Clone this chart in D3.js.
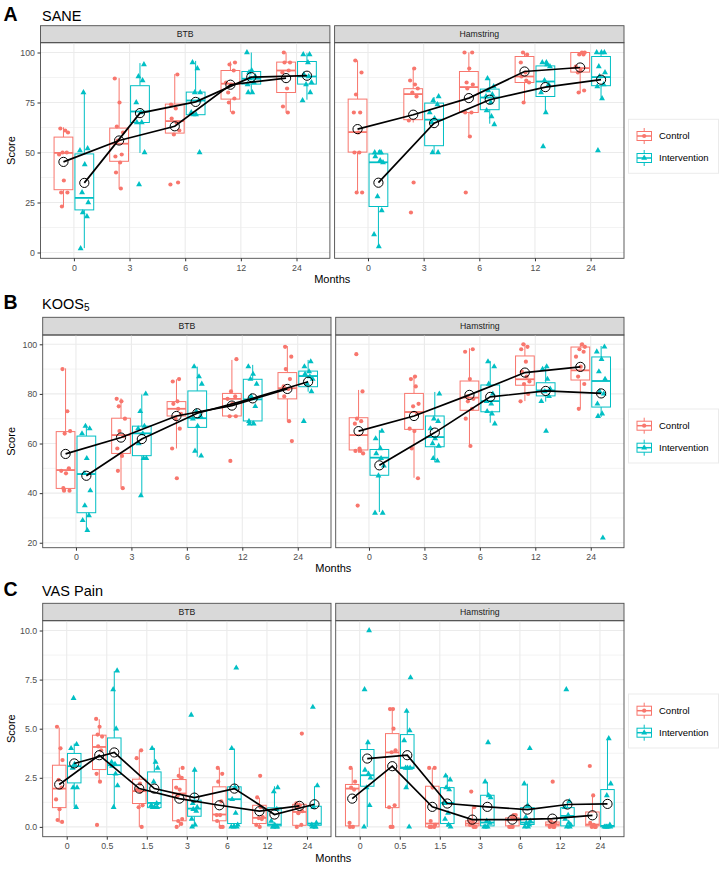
<!DOCTYPE html>
<html>
<head>
<meta charset="utf-8">
<script src="https://cdn.jsdelivr.net/npm/d3@7"></script>
<style>
  body { margin: 0; background: #fff; }
  svg { display: block; font-family: "Liberation Sans", Arial, sans-serif; }
</style>
</head>
<body>
<svg id="chart" width="724" height="871"></svg>
<script>
const groups = ["Control", "Intervention"];
const facets = ["BTB", "Hamstring"];
const groupColors = ["#F8766D", "#00BFC4"];

// ---- SANE ----
const saneTimes = ["0", "3", "6", "12", "24"];
const saneTicks = [0, 25, 50, 75, 100];
// box stats per time: [lower whisker, q1, median, q3, upper whisker]
const saneBtbCtlBox = [[23.1, 31.4, 49.8, 57.7, 62.6], [32, 45.6, 54.4, 62.2, 87.2], [58.9, 59.7, 65.7, 74.2, 89.2], [70.2, 76.7, 84.4, 91, 95.5], [70, 80, 91, 95.2, 100]];
const saneBtbCtlMean = [45.3, 56, 63.1, 83.9, 87.2];
const saneBtbCtlPts = [[62, 61, 60, 50, 50, 49, 36, 30, 30, 23], [87, 75, 63, 60, 56, 49, 48, 45, 40, 32], [89, 74, 72, 67, 65, 61, 59, 35, 34], [95, 94, 91, 85, 84, 80, 77, 75, 70], [100, 95, 95, 91, 90, 82, 73, 70]];
const saneBtbIntBox = [[2.2, 21.3, 27.3, 49.3, 80.5], [49.8, 65, 70.5, 83.4, 94.7], [68.9, 68.9, 76, 80.2, 95.8], [80.5, 84.2, 86.9, 90.5, 100], [76.4, 84.2, 88, 95.5, 99.7]];
const saneBtbIntMean = [34.8, 69.7, 75.3, 87.7, 88.4];
const saneBtbIntPts = [[80, 52, 51, 44, 30, 25, 20, 18, 2], [94, 88, 86, 75, 70, 65, 65, 50, 34], [95, 92, 80, 80, 76, 70, 69, 69, 50], [100, 91, 90, 88, 87, 85, 84, 80, 80], [99, 99, 95, 89, 88, 85, 84, 80, 76]];
const saneHamCtlBox = [[30.3, 50.2, 60.2, 76.7, 96], [65, 66.4, 79.2, 81.9, 91.7], [58.4, 70, 82.7, 90.5, 100], [75.2, 85, 88, 98, 100], [79.7, 90.2, 92.2, 100, 100]];
const saneHamCtlMean = [61.7, 68.9, 77.2, 90.5, 92.5];
const saneHamCtlPts = [[96, 90, 79, 70, 70, 60, 50, 50, 30, 30], [92, 86, 84, 82, 80, 78, 66, 35, 20], [100, 100, 92, 85, 84, 82, 70, 70, 58, 30], [100, 99, 95, 90, 88, 86, 85, 75], [100, 100, 99, 99, 93, 91, 90, 81, 80]];
const saneHamIntBox = [[3.2, 23, 45.1, 49.3, 51], [50, 53.4, 66.4, 74.7, 77.7], [64.4, 71.4, 77.5, 81.7, 86.9], [70.2, 78, 85.5, 93.3, 95.5], [77.5, 83.4, 87.7, 98, 100]];
const saneHamIntMean = [34.9, 64.7, 76.4, 82.7, 86.4];
const saneHamIntPts = [[50, 50, 50, 48, 46, 45, 28, 21, 9, 3], [78, 76, 74, 70, 67, 65, 50, 50], [87, 83, 81, 79, 78, 75, 71, 68, 64], [95, 95, 94, 93, 86, 84, 80, 70, 53], [100, 100, 100, 93, 90, 88, 84, 83, 77, 51]];

// ---- KOOS5 ----
const koosTimes = ["0", "3", "6", "12", "24"];
const koosTicks = [20, 40, 60, 80, 100];
const koosBtbCtlBox = [[41, 41.9, 49.3, 64.8, 90.3], [42.2, 56, 63.4, 70.2, 78.2], [58, 71.1, 74, 76.9, 85.9], [71.1, 71.1, 78, 80.2, 93.7], [69.1, 78, 82.3, 88.6, 99.3]];
const koosBtbCtlMean = [55.8, 62.4, 71.1, 75.3, 82];
const koosBtbCtlPts = [[90, 73, 65, 64, 50, 49, 48, 42, 41, 41], [78, 77, 75, 70, 65, 63, 58, 55, 49, 42], [86, 85, 77, 76, 74, 72, 70, 66, 58, 46], [94, 81, 79, 78, 76, 71, 71, 53], [99, 95, 90, 86, 83, 82, 79, 69, 61]];
const koosBtbIntBox = [[25.1, 32.1, 47.7, 63, 67], [38.8, 55.1, 64.1, 67, 79.8], [54.7, 66.5, 70.2, 81.2, 91], [67.9, 69.1, 77.8, 85.9, 91.7], [80.9, 82.9, 87.2, 89.2, 93.7]];
const koosBtbIntMean = [47, 61.8, 72.2, 78.2, 84.9];
const koosBtbIntPts = [[67, 66, 64, 54, 48, 41, 35, 31, 29, 25], [80, 73, 67, 66, 64, 60, 54, 54, 39], [91, 87, 84, 73, 71, 70, 67, 57, 55], [91, 88, 86, 84, 79, 75, 69, 68, 68], [93, 91, 89, 88, 87, 86, 84, 81, 69]];
const koosHamCtlBox = [[56.3, 57.4, 63.4, 70.4, 81.6], [46.2, 65.7, 72.7, 80.2, 86.8], [59, 73.4, 78.5, 85.2, 98.4], [77.1, 83.5, 85.9, 95.3, 100.4], [74.2, 85.6, 89.5, 98.9, 100.4]];
const koosHamCtlMean = [65, 71.1, 79.6, 88.6, 90.9];
const koosHamCtlPts = [[96, 81, 70, 69, 68, 58, 57, 57, 56, 35], [87, 86, 83, 76, 75, 72, 66, 65, 58, 46], [98, 97, 86, 79, 78, 77, 74, 70, 59], [100, 99, 98, 93, 89, 87, 85, 84, 80, 77], [100, 99, 98, 97, 95, 91, 87, 84, 74]];
const koosHamIntBox = [[32.4, 47.2, 54.3, 57.6, 65.4], [52.5, 58.7, 62.6, 71.1, 80.8], [68.4, 72.8, 77.1, 83.6, 93.3], [76.9, 79.2, 81.4, 84.5, 91.3], [70.7, 74.7, 85.2, 94.9, 99.3]];
const koosHamIntMean = [51.2, 64.4, 78.8, 81.2, 80.2];
const koosHamIntPts = [[65, 62, 58, 56, 54, 51, 47, 32, 32], [80, 70, 69, 66, 62, 60, 59, 54, 53], [93, 91, 84, 80, 77, 76, 73, 72, 68], [91, 90, 86, 82, 81, 79, 77, 65], [99, 97, 94, 89, 86, 81, 80, 76, 72, 71, 22]];

// ---- VAS Pain ----
const vasTimes = ["0", "0.5", "1.5", "3", "6", "12", "24"];
const vasTicks = [0, 2.5, 5, 7.5, 10];
const vasBtbCtlBox = [[0.22, 0.98, 1.95, 3.14, 5.06], [2.33, 2.92, 4.07, 4.67, 5.48], [0, 1.19, 1.82, 2.43, 3.9], [0, 0.31, 1.7, 2.41, 3.02], [0, 0.31, 0.63, 2.04, 3.0], [0, 0.17, 0.46, 1.1, 1.48], [0, 0.08, 0.76, 1.15, 1.24]];
const vasBtbCtlMean = [2.16, 3.65, 1.95, 1.44, 1.1, 0.8, 1.07];
const vasBtbCtlPts = [[5.1, 4.0, 3.4, 2.4, 2.0, 1.4, 0.9, 0.35, 0.25], [5.5, 5.1, 4.7, 4.6, 4.1, 3.9, 2.7, 2.3, 0.1], [3.9, 3.5, 2.2, 1.9, 1.8, 1.1, 1.0, 0], [3.0, 2.6, 2.5, 2.0, 1.9, 1.6, 0.4, 0.3, 0.15, 0], [3.0, 2.7, 2.3, 1.3, 0.6, 0.6, 0.3, 0, 0], [2.6, 1.5, 1.0, 0.5, 0.45, 0.4, 0.1, 0], [4.75, 1.2, 1.1, 1.0, 0.8, 0.7, 0.1, 0]];
const vasBtbIntBox = [[1.02, 2.24, 3.09, 3.74, 4.24], [0.98, 2.67, 3.14, 4.53, 7.93], [0.93, 0.98, 1.22, 2.8, 4.02], [0, 0.54, 0.93, 1.36, 2.85], [0, 0.17, 1.41, 2.04, 3.99], [0, 0.05, 0.12, 0.97, 2.07], [0, 0.08, 0.17, 1.05, 2.07]];
const vasBtbIntMean = [3.23, 3.79, 1.95, 1.49, 1.95, 0.63, 1.15];
const vasBtbIntPts = [[6.55, 4.2, 4.0, 3.2, 3.0, 2.0, 2.0, 1.0], [7.95, 7.0, 5.0, 3.3, 3.2, 3.1, 2.7, 2.1, 1.0], [4.0, 3.3, 3.0, 2.3, 1.2, 1.1, 1.0, 1.0, 1.0], [5.7, 2.9, 1.2, 1.0, 0.9, 0.8, 0.4, 0.1, 0], [8.1, 4.0, 2.0, 1.4, 0.7, 0.1, 0, 0, 0], [2.0, 1.8, 0.9, 0.3, 0.1, 0, 0, 0, 0], [6.1, 2.1, 1.0, 0.2, 0.1, 0, 0, 0]];
const vasHamCtlBox = [[0, 0.05, 1.95, 2.16, 3.0], [0, 0.98, 3.79, 4.75, 6.03], [0, 0, 0.17, 2.07, 3.0], [0, 0.05, 0.17, 0.31, 0.98], [0, 0.05, 0.34, 0.46, 0.63], [0, 0.05, 0.12, 0.25, 0.25], [0, 0.05, 0.12, 0.76, 1.65]];
const vasHamCtlMean = [1.44, 3.09, 1.02, 0.37, 0.37, 0.42, 0.59];
const vasHamCtlPts = [[3.0, 2.3, 2.0, 1.9, 0.2, 0, 0], [6.0, 6.0, 5.0, 3.9, 3.8, 1.1, 1.0, 0, 0], [3.0, 3.0, 2.0, 0.3, 0.1, 0, 0, 0], [1.8, 1.0, 0.3, 0.2, 0.1, 0, 0], [0.6, 0.6, 0.5, 0.4, 0, 0, 0], [2.3, 0.3, 0.2, 0.1, 0, 0, 0], [3.1, 1.6, 0.2, 0.1, 0, 0, 0]];
const vasHamIntBox = [[0, 2.07, 2.63, 3.94, 4.33], [2.0, 2.97, 3.02, 4.7, 5.94], [0, 0.17, 1.22, 2.0, 2.63], [0, 0.05, 0.22, 1.61, 2.29], [0, 0.12, 0.22, 0.98, 2.2], [0, 0.05, 0.56, 0.98, 1.31], [0, 0, 0.05, 1.9, 4.53]];
const vasHamIntMean = [3.48, 3.65, 1.19, 1.02, 0.88, 1.14, 1.17];
const vasHamIntPts = [[10.0, 7.0, 4.3, 2.9, 2.7, 2.5, 2.0, 1.1, 0], [7.6, 5.9, 4.9, 4.4, 3.0, 3.0, 3.0, 2.0, 0], [2.6, 2.4, 2.0, 1.9, 1.2, 0.7, 0.4, 0.1, 0], [4.3, 2.3, 1.6, 1.5, 0.3, 0.2, 0, 0, 0], [4.0, 2.2, 1.1, 0.5, 0.3, 0.2, 0.1, 0, 0], [7.0, 1.3, 1.0, 0.6, 0.4, 0.2, 0.1, 0, 0], [4.5, 2.2, 1.6, 0.1, 0, 0, 0, 0, 0]];

// fixed jitter pattern (fraction of half jitter width)
const jitterSeq = [-0.62, 0.35, 0.91, -0.18, 0.66, -0.87, 0.08, -0.45, 0.79, -0.31, 0.52, -0.74, 0.2];

const plots = [
  { letter: "A", title: "SANE", sub: "", times: saneTimes, ticks: saneTicks, fmt: d3.format("d"),
    yDomain: [-2.9, 104.9], left: 40.5, titleY: 21, stripTop: 25.7, stripBottom: 42.7, panelBottom: 258.3, monthsY: 283.3, legendTop: 119.3,
    data: [[[saneBtbCtlBox, saneBtbCtlMean, saneBtbCtlPts], [saneBtbIntBox, saneBtbIntMean, saneBtbIntPts]],
           [[saneHamCtlBox, saneHamCtlMean, saneHamCtlPts], [saneHamIntBox, saneHamIntMean, saneHamIntPts]]] },
  { letter: "B", title: "KOOS", sub: "5", times: koosTimes, ticks: koosTicks, fmt: d3.format("d"),
    yDomain: [18, 103.75], left: 42.7, titleY: 309, stripTop: 317.3, stripBottom: 335, panelBottom: 547.7, monthsY: 572.3, legendTop: 409,
    data: [[[koosBtbCtlBox, koosBtbCtlMean, koosBtbCtlPts], [koosBtbIntBox, koosBtbIntMean, koosBtbIntPts]],
           [[koosHamCtlBox, koosHamCtlMean, koosHamCtlPts], [koosHamIntBox, koosHamIntMean, koosHamIntPts]]] },
  { letter: "C", title: "VAS Pain", sub: "", times: vasTimes, ticks: vasTicks, fmt: d3.format(".1f"),
    yDomain: [-0.5, 10.5], left: 42.7, titleY: 596, stripTop: 603.3, stripBottom: 620.7, panelBottom: 836.7, monthsY: 862.3, legendTop: 694,
    data: [[[vasBtbCtlBox, vasBtbCtlMean, vasBtbCtlPts], [vasBtbIntBox, vasBtbIntMean, vasBtbIntPts]],
           [[vasHamCtlBox, vasHamCtlMean, vasHamCtlPts], [vasHamIntBox, vasHamIntMean, vasHamIntPts]]] }
];

const svg = d3.select("#chart");
const RIGHT = 624;
const GAP = 4.7;
const tri = d3.symbol().type(d3.symbolTriangle).size(15);

function drawPlot(p) {
  const g = svg.append("g");

  // header
  g.append("text").attr("x", 3.5).attr("y", p.titleY).attr("font-size", 19.5).attr("font-weight", "bold").text(p.letter);
  const title = g.append("text").attr("x", 42).attr("y", p.titleY).attr("font-size", 14.5).text(p.title);
  if (p.sub) title.append("tspan").attr("font-size", 10).attr("dy", 2).text(p.sub);

  const y = d3.scaleLinear().domain(p.yDomain).range([p.panelBottom, p.stripBottom]);
  const minor = d3.pairs(p.ticks).map(([a, b]) => (a + b) / 2);
  const pw = (RIGHT - p.left - GAP) / 2;

  facets.forEach((facet, fi) => {
    const x0 = p.left + fi * (pw + GAP);
    const x = d3.scalePoint().domain(p.times).range([x0, x0 + pw]).padding(0.6);
    const step = x.step();
    const pan = g.append("g");

    // strip
    pan.append("rect").attr("x", x0).attr("y", p.stripTop).attr("width", pw).attr("height", p.stripBottom - p.stripTop)
      .attr("fill", "#D9D9D9").attr("stroke", "#4D4D4D").attr("stroke-width", 0.9);
    pan.append("text").attr("x", x0 + pw / 2).attr("y", (p.stripTop + p.stripBottom) / 2 + 3.1)
      .attr("text-anchor", "middle").attr("font-size", 8.7).attr("fill", "#1A1A1A").text(facet);

    // grid
    pan.selectAll(".minor").data(minor).join("line")
      .attr("x1", x0).attr("x2", x0 + pw).attr("y1", d => y(d)).attr("y2", d => y(d))
      .attr("stroke", "#EBEBEB").attr("stroke-width", 0.6);
    pan.selectAll(".major").data(p.ticks).join("line")
      .attr("x1", x0).attr("x2", x0 + pw).attr("y1", d => y(d)).attr("y2", d => y(d))
      .attr("stroke", "#EBEBEB").attr("stroke-width", 1.1);
    pan.selectAll(".vmajor").data(p.times).join("line")
      .attr("x1", d => x(d)).attr("x2", d => x(d)).attr("y1", p.stripBottom).attr("y2", p.panelBottom)
      .attr("stroke", "#EBEBEB").attr("stroke-width", 1.1);

    const bw = 0.3375 * step;
    groups.forEach((grp, gi) => {
      const [boxes, means, pts] = p.data[fi][gi];
      const col = groupColors[gi];
      const cx = t => x(t) + (gi === 0 ? -0.1875 : 0.1875) * step;
      const bg = pan.append("g");
      p.times.forEach((t, ti) => {
        const [lo, q1, med, q3, hi] = boxes[ti];
        const c = cx(t);
        bg.append("line").attr("x1", c).attr("x2", c).attr("y1", y(q3)).attr("y2", y(hi)).attr("stroke", col).attr("stroke-width", 1);
        bg.append("line").attr("x1", c).attr("x2", c).attr("y1", y(q1)).attr("y2", y(lo)).attr("stroke", col).attr("stroke-width", 1);
        bg.append("rect").attr("x", c - bw / 2).attr("width", bw).attr("y", y(q3)).attr("height", Math.max(0.5, y(q1) - y(q3)))
          .attr("fill", "white").attr("stroke", col).attr("stroke-width", 1);
        bg.append("line").attr("x1", c - bw / 2).attr("x2", c + bw / 2).attr("y1", y(med)).attr("y2", y(med))
          .attr("stroke", col).attr("stroke-width", 1.8);
      });
      p.times.forEach((t, ti) => {
        pts[ti].forEach((v, i) => {
          const jx = cx(t) + jitterSeq[(i + ti * 5 + gi * 3 + fi * 7) % jitterSeq.length] * 0.09 * step;
          if (gi === 0) {
            bg.append("circle").attr("cx", jx).attr("cy", y(v)).attr("r", 2.1).attr("fill", col);
          } else {
            bg.append("path").attr("d", tri).attr("transform", `translate(${jx},${y(v)})`).attr("fill", col);
          }
        });
      });
    });

    // mean lines
    groups.forEach((grp, gi) => {
      const means = p.data[fi][gi][1];
      const cx = t => x(t) + (gi === 0 ? -0.1875 : 0.1875) * step;
      const line = d3.line().x((d, i) => cx(p.times[i])).y(d => y(d));
      pan.append("path").attr("d", line(means)).attr("fill", "none").attr("stroke", "black").attr("stroke-width", 1.7);
      pan.selectAll(null).data(means).join("circle")
        .attr("cx", (d, i) => cx(p.times[i])).attr("cy", d => y(d)).attr("r", 4.6)
        .attr("fill", "none").attr("stroke", "black").attr("stroke-width", 1);
    });

    // border
    pan.append("rect").attr("x", x0).attr("y", p.stripBottom).attr("width", pw).attr("height", p.panelBottom - p.stripBottom)
      .attr("fill", "none").attr("stroke", "#4D4D4D").attr("stroke-width", 0.9);

    // x axis
    const xa = pan.append("g").attr("transform", `translate(0,${p.panelBottom})`)
      .call(d3.axisBottom(x).tickSize(3).tickPadding(3.5));
    xa.select(".domain").remove();
    xa.selectAll("line").attr("stroke", "#333");
    xa.selectAll("text").attr("font-size", 8.8).attr("fill", "#4D4D4D").attr("font-family", null);

    if (fi === 0) {
      const ya = pan.append("g").attr("transform", `translate(${x0},0)`)
        .call(d3.axisLeft(y).tickValues(p.ticks).tickFormat(p.fmt).tickSize(3).tickPadding(2.5));
      ya.select(".domain").remove();
      ya.selectAll("line").attr("stroke", "#333");
      ya.selectAll("text").attr("font-size", 8.8).attr("fill", "#4D4D4D").attr("font-family", null);
    }
  });

  // axis titles
  g.append("text").attr("transform", `translate(15,${(p.stripBottom + p.panelBottom) / 2}) rotate(-90)`)
    .attr("text-anchor", "middle").attr("font-size", 11).text("Score");
  g.append("text").attr("x", (p.left + RIGHT) / 2).attr("y", p.monthsY)
    .attr("text-anchor", "middle").attr("font-size", 11).text("Months");

  // legend
  const lg = g.append("g").attr("transform", `translate(628.5,${p.legendTop})`);
  lg.append("rect").attr("width", 90).attr("height", 54).attr("fill", "white").attr("stroke", "#EBEBEB");
  groups.forEach((grp, gi) => {
    const cy = 16.7 + gi * 22;
    const col = groupColors[gi];
    const k = lg.append("g");
    k.append("line").attr("x1", 15.7).attr("x2", 15.7).attr("y1", cy - 8).attr("y2", cy + 8).attr("stroke", col);
    k.append("rect").attr("x", 8.5).attr("y", cy - 4.5).attr("width", 14.5).attr("height", 9)
      .attr("fill", "white").attr("stroke", col);
    k.append("line").attr("x1", 8.5).attr("x2", 23).attr("y1", cy).attr("y2", cy).attr("stroke", col).attr("stroke-width", 1.5);
    if (gi === 0) k.append("circle").attr("cx", 15.7).attr("cy", cy).attr("r", 2.1).attr("fill", col);
    else k.append("path").attr("d", tri).attr("transform", `translate(15.7,${cy})`).attr("fill", col);
    lg.append("text").attr("x", 30.5).attr("y", cy + 3.5).attr("font-size", 9.5).text(grp);
  });
}

plots.forEach(drawPlot);
</script>
</body>
</html>
